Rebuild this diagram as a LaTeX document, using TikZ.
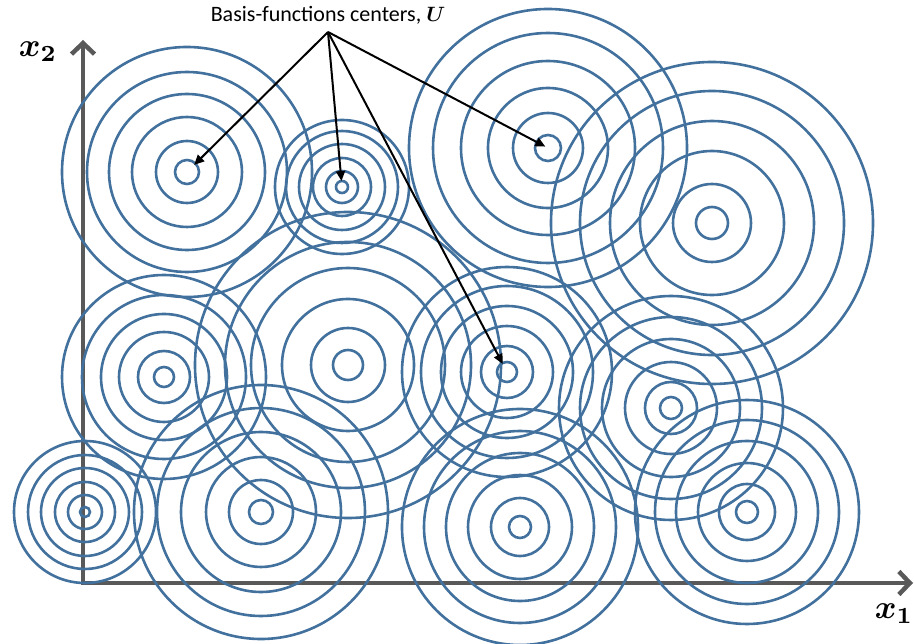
\documentclass[tikz,border=0pt]{standalone}
\usepackage{amsmath}
\usepackage{fontspec}
\newfontfamily\calib{Carlito}
\usetikzlibrary{arrows.meta}
\definecolor{ringblue}{RGB}{66,113,158}
\definecolor{axisgray}{RGB}{89,89,89}
\begin{document}
\begin{tikzpicture}[x=1pt,y=-1pt,
  ring/.style={draw=ringblue, line width=2.6pt},
  axisline/.style={draw=axisgray, line width=4.5pt, -{Straight Barb[length=11pt,width=23pt]}},
  pointer/.style={draw=black, line width=2pt, -{Triangle[length=10pt,width=9pt]}},
  axlabel/.style={scale=3.3, inner sep=0pt},
  titletext/.style={inner sep=0pt}
]
\useasboundingbox (0,0) rectangle (914,644);
\clip (0,0) rectangle (914,644);

% axes
\coordinate (O) at (83,583);
\coordinate (yend) at (83,40);
\coordinate (xend) at (913,583);
\draw[axisline] ([yshift=-2.2pt]O) -- (yend);
\draw[axisline] ([xshift=-2.2pt]O) -- (xend);

% centres
\coordinate (c1) at (187,172);
\coordinate (c2) at (342,187);
\coordinate (c3) at (548,148);
\coordinate (c4) at (712,223);
\coordinate (c5) at (164,377);
\coordinate (c6) at (348,365);
\coordinate (c7) at (507,372);
\coordinate (c8) at (671,408);
\coordinate (c9) at (85,512);
\coordinate (c10) at (261,512);
\coordinate (c11) at (520,527);
\coordinate (c12) at (747,512);

\foreach \n/\radii in {
  c1/{12,31,55,78,100,125},
  c2/{6,16,29,43,56,67},
  c3/{13,35,60,87,115,139},
  c4/{16,39,72,102,132,161},
  c5/{10,26,45,63,82,102},
  c6/{15,37,66,97,123,153},
  c7/{10,26,46,66,86,105},
  c8/{11,26,46,69,91,112},
  c9/{5,17,30,44,57,71},
  c10/{12,32,55,80,104,127},
  c11/{11,29,52,74,96,118},
  c12/{11,28,49,71,92,112}}{
  \foreach \r in \radii {
    \draw[ring] (\n) circle[radius=\r pt];
  }
}

% title and pointers
\node[titletext] (lab) at (328,15) {\calib\fontsize{22}{26}\selectfont Basis-functions centers, $\boldsymbol{U}$};
\coordinate (apex) at (328,32);
\draw[pointer, shorten >=10pt] (apex) -- (c1);
\draw[pointer, shorten >=6pt] (apex) -- (c2);
\draw[pointer, shorten >=3pt] (apex) -- (c3);
\draw[pointer, shorten >=9pt] (apex) -- (c7);

% axis labels
\node[axlabel] (x2lab) at (38,52) {$\boldsymbol{x_2}$};
\node[axlabel] (x1lab) at (894,614) {$\boldsymbol{x_1}$};
\end{tikzpicture}
\end{document}
